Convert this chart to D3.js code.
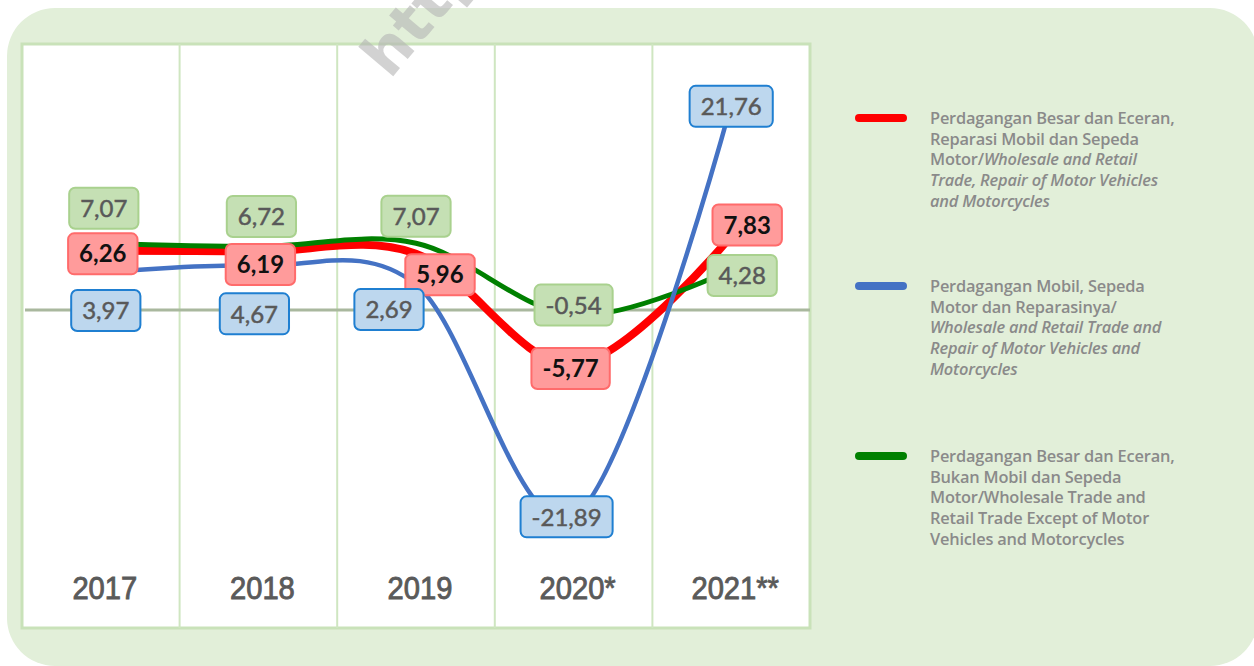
<!DOCTYPE html>
<html>
<head>
<meta charset="utf-8">
<script src="https://cdn.jsdelivr.net/npm/d3@7"></script>
<style>
  html, body { margin:0; padding:0; background:#fff; }
  svg { display:block; }
</style>
</head>
<body>
<div id="chart"></div>
<script>
////////////////////////////// data //////////////////////////////
var years = ["2017", "2018", "2019", "2020*", "2021**"];
var tradeAll   = [6.26, 6.19, 5.96, -5.77, 7.83];   // red
var tradeCars  = [3.97, 4.67, 2.69, -21.89, 21.76]; // blue
var tradeOther = [7.07, 6.72, 7.07, -0.54, 4.28];   // green

var legendRed = [
  [["Perdagangan Besar dan Eceran,", false]],
  [["Reparasi Mobil dan Sepeda", false]],
  [["Motor/", false], ["Wholesale and Retail", true]],
  [["Trade, Repair of Motor Vehicles", true]],
  [["and Motorcycles", true]]
];
var legendBlue = [
  [["Perdagangan Mobil, Sepeda", false]],
  [["Motor dan Reparasinya/", false]],
  [["Wholesale and Retail Trade and", true]],
  [["Repair of Motor Vehicles and", true]],
  [["Motorcycles", true]]
];
var legendGreen = [
  [["Perdagangan Besar dan Eceran,", false]],
  [["Bukan Mobil dan Sepeda", false]],
  [["Motor/Wholesale Trade and", false]],
  [["Retail Trade Except of Motor", false]],
  [["Vehicles and Motorcycles", false]]
];

// label nudges (px) so boxes don't collide, per year
var nudgeRed   = [[2, 3], [2, 13], [24, 21], [-3, 4], [16, -11]];
var nudgeBlue  = [[5, 38], [-4, 48], [-27, 25], [-7, 0], [0, 2]];
var nudgeGreen = [[3, -35], [3, -30], [0, -27], [0, -10], [11, 6]];

////////////////////////////// setup //////////////////////////////
var W = 1254, H = 666;
var panel = {left:22, right:810, top:44, bottom:628};
var zeroY = 310, pxPerUnit = 9.45;

var svg = d3.select("#chart").append("svg")
  .attr("width", W).attr("height", H);

// outer green card
svg.append("rect")
  .attr("x", 7).attr("y", 8).attr("width", 1251).attr("height", 658)
  .attr("rx", 48).attr("fill", "#e2efd9");

// white panel
svg.append("rect")
  .attr("x", panel.left).attr("y", panel.top)
  .attr("width", panel.right - panel.left).attr("height", panel.bottom - panel.top)
  .attr("fill", "#fff").attr("stroke", "#c9e2b9").attr("stroke-width", 3);

var x = d3.scaleBand().domain(years).range([panel.left, panel.right]);
var cx = function(i){ return x(years[i]) + x.bandwidth()/2; };
var y = d3.scaleLinear().domain([-25, 25]).range([zeroY + 25*pxPerUnit, zeroY - 25*pxPerUnit]);

// column dividers
svg.selectAll("line.div").data(years.slice(1)).enter().append("line")
  .attr("class", "div")
  .attr("x1", function(d){ return x(d); }).attr("x2", function(d){ return x(d); })
  .attr("y1", panel.top).attr("y2", panel.bottom)
  .attr("stroke", "#cfe6c1").attr("stroke-width", 2);

// zero line
svg.append("line")
  .attr("x1", panel.left + 3).attr("x2", panel.right)
  .attr("y1", y(0)).attr("y2", y(0))
  .attr("stroke", "#a9b89e").attr("stroke-width", 3);

// year labels
svg.selectAll("text.year").data(years).enter().append("text")
  .attr("class", "year")
  .attr("transform", function(d){
    return "translate(" + (x(d) + x.bandwidth()/2 + 4) + ",599) scale(0.94,1)";
  })
  .attr("text-anchor", "middle")
  .attr("font-family", "Liberation Sans, Arial, sans-serif")
  .attr("font-size", 31)
  .attr("fill", "#5a5a5a")
  .attr("stroke", "#5a5a5a")
  .attr("stroke-width", 0.9)
  .text(function(d){ return d; });

////////////////////////////// lines //////////////////////////////
var series = [
  {vals: tradeAll,   color:"#ff0000", w:8,   box:"#ff9b9b", boxStroke:"#ff6b6b", txt:"#111", fw:700, nudge:nudgeRed},
  {vals: tradeOther, color:"#008000", w:5,   box:"#c5e0b4", boxStroke:"#a9d18e", txt:"#595959", fw:400, nudge:nudgeGreen},
  {vals: tradeCars,  color:"#4472c4", w:4.5, box:"#bdd7ee", boxStroke:"#1f7fd1", txt:"#595959", fw:400, nudge:nudgeBlue}
];

var line = d3.line()
  .x(function(d, i){ return cx(i); })
  .y(function(d){ return y(d); })
  .curve(d3.curveCardinal.tension(0));

series.forEach(function(s){
  svg.append("path")
    .attr("d", line(s.vals))
    .attr("fill", "none")
    .attr("stroke", s.color)
    .attr("stroke-width", s.w)
    .attr("stroke-linecap", "round");
});

////////////////////////////// value boxes //////////////////////////////
var fmt = function(v){ return d3.format(".2f")(v).replace(".", ",").replace("−", "-"); };

series.forEach(function(s){
  s.vals.forEach(function(v, i){
    var lx = cx(i) + s.nudge[i][0], ly = y(v) + s.nudge[i][1];
    var g = svg.append("g").attr("transform", "translate(" + lx + "," + ly + ")");
    var t = g.append("text")
      .attr("text-anchor", "middle")
      .attr("dy", "0.36em")
      .attr("font-family", "Lato, 'Open Sans', sans-serif")
      .attr("font-weight", s.fw)
      .attr("font-size", 24)
      .attr("fill", s.txt)
      .attr("stroke", s.fw === 400 ? s.txt : "none")
      .attr("stroke-width", 0.5)
      .text(fmt(v));
    var bw = t.node().getComputedTextLength() + 22, bh = 41;
    g.insert("rect", "text")
      .attr("x", -bw/2).attr("y", -bh/2)
      .attr("width", bw).attr("height", bh)
      .attr("rx", 6)
      .attr("fill", s.box)
      .attr("stroke", s.boxStroke)
      .attr("stroke-width", 2);
  });
});

////////////////////////////// legend //////////////////////////////
var legend = [
  {color:"#ff0000", lines:legendRed,   y:118},
  {color:"#4472c4", lines:legendBlue,  y:286},
  {color:"#008000", lines:legendGreen, y:456}
];
legend.forEach(function(l){
  svg.append("line")
    .attr("x1", 859).attr("x2", 903)
    .attr("y1", l.y).attr("y2", l.y)
    .attr("stroke", l.color).attr("stroke-width", 8)
    .attr("stroke-linecap", "round");
  var t = svg.append("text")
    .attr("font-family", "'Open Sans', Lato, sans-serif")
    .attr("font-size", 16.4)
    .attr("font-weight", 600)
    .attr("letter-spacing", -0.2)
    .attr("fill", "#8a8a8a");
  l.lines.forEach(function(parts, k){
    parts.forEach(function(p, j){
      var ts = t.append("tspan").text(p[0]);
      if (j === 0) ts.attr("x", 930).attr("y", l.y + 6 + k*20.7);
      if (p[1]) ts.attr("font-style", "italic");
    });
  });
});

////////////////////////////// watermark //////////////////////////////
svg.append("text")
  .attr("transform", "translate(390,80) rotate(-50)")
  .attr("font-family", "DejaVu Sans, sans-serif")
  .attr("font-weight", 700)
  .attr("font-size", 60)
  .attr("fill", "#b5b5b5")
  .attr("opacity", 0.6)
  .text("http");
</script>
</body>
</html>
